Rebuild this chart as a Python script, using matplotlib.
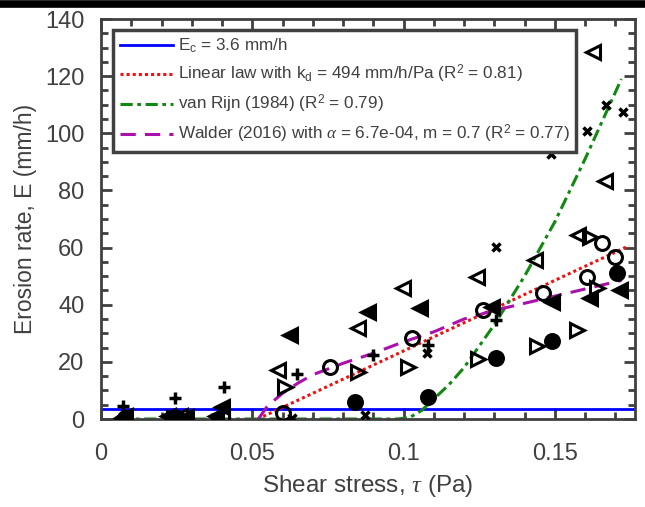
import numpy as np
import matplotlib.pyplot as plt
from matplotlib.ticker import MultipleLocator

plt.rcParams['font.family'] = ['Liberation Sans', 'DejaVu Sans']
plt.rcParams['mathtext.fontset'] = 'custom'
plt.rcParams['mathtext.rm'] = 'Liberation Sans'
plt.rcParams['mathtext.it'] = 'Liberation Serif:italic'
plt.rcParams['figure.facecolor'] = 'white'
plt.rcParams['savefig.facecolor'] = 'white'
plt.rcParams['savefig.transparent'] = False
GREY = '#404040'

# measured erosion rates (tau in Pa, E in mm/h), grouped by marker
open_circ_tau = [0.0603, 0.0757, 0.1027, 0.1263, 0.1462, 0.1605, 0.1655, 0.1699, 0.025]
open_circ_E = [2.0, 18.3, 28.2, 38.2, 44.0, 49.8, 61.5, 56.8, 0.5]
fill_circ_tau = [0.0839, 0.1082, 0.1305, 0.1492, 0.1704, 0.008]
fill_circ_E = [6.1, 7.8, 21.2, 27.3, 51.0, 0.5]
open_left_tau = [0.0586, 0.085, 0.0999, 0.1242, 0.1434, 0.1576, 0.1625, 0.1666, 0.007, 0.026, 0.040]
open_left_E = [17.2, 31.7, 45.7, 49.6, 55.6, 64.4, 128.5, 83.3, 0.5, 1.2, 0.8]
fill_left_tau = [0.0625, 0.0883, 0.1054, 0.1291, 0.149, 0.1616, 0.1715, 0.0399, 0.038, 0.008, 0.022, 0.028]
fill_left_E = [29.4, 37.6, 38.7, 39.3, 41.0, 42.2, 45.1, 4.3, 1.0, 1.0, 1.0, 0.8]
open_right_tau = [0.0608, 0.085, 0.1016, 0.1247, 0.144, 0.1572, 0.1616, 0.1638, 0.024]
open_right_E = [11.1, 16.6, 18.3, 20.9, 25.5, 31.2, 63.8, 45.7, 0.3]
plus_tau = [0.0074, 0.0245, 0.0408, 0.0647, 0.09, 0.1082, 0.1307]
plus_E = [4.5, 7.2, 11.1, 15.7, 22.4, 25.9, 34.5]
cross_tau = [0.063, 0.0872, 0.1076, 0.1307, 0.1489, 0.1607, 0.1669, 0.1724, 0.009, 0.027, 0.0375]
cross_E = [0.2, 1.4, 23.0, 60.3, 92.8, 100.9, 109.9, 107.6, 0.3, 0.2, 0.5]

# model curves
E_c = 3.6
k_d = 494.0
tau_c_lin = 0.0518
vr_tau = [0.006, 0.098, 0.102, 0.106, 0.110, 0.115, 0.120, 0.130, 0.140, 0.150, 0.160, 0.172]
vr_E = [0, 0, 0.5, 3, 7, 12, 18, 33, 50, 69, 91, 119]
wa_tau = [0.052, 0.055, 0.06, 0.065, 0.07, 0.08, 0.09, 0.10, 0.11, 0.12, 0.13, 0.14, 0.15, 0.16, 0.172]
wa_E = [0, 4.5, 9, 12.5, 15.5, 19.5, 23, 27, 30.5, 35, 38, 40.5, 43, 45.5, 48.5]

fig = plt.figure(figsize=(6.45, 5.07), dpi=100)
ax = fig.add_axes([101 / 645, 88 / 507, 534 / 645, 400 / 507])

xmax = 0.1765
ax.plot([0, xmax], [E_c, E_c], color='#0000ff', lw=2, label=r'E$_\mathrm{c}$ = 3.6 mm/h')
lin_tau = np.array([tau_c_lin, 0.1745])
ax.plot(lin_tau, k_d * (lin_tau - tau_c_lin), color='#ee1111', lw=2.2, ls=(0, (1, 1)),
        label=r'Linear law with k$_\mathrm{d}$ = 494 mm/h/Pa (R$^2$ = 0.81)')
ax.plot(vr_tau, vr_E, color='#118811', lw=2.2, ls=(0, (4, 1.5, 1.2, 1.5)),
        label=r'van Rijn (1984) (R$^2$ = 0.79)')
ax.plot(wa_tau, wa_E, color='#aa11aa', lw=2.2, ls=(0, (5, 3)),
        label=r'Walder (2016) with $\alpha$ = 6.7e-04, m = 0.7 (R$^2$ = 0.77)')

mk = dict(ls='none', color='black', mew=2.2, ms=10, zorder=5)
ax.plot(open_circ_tau, open_circ_E, marker='o', mfc='none', **mk)
ax.plot(fill_circ_tau, fill_circ_E, marker='o', mfc='black', **mk)
ax.plot(open_left_tau, open_left_E, marker='<', mfc='none', **mk)
ax.plot(fill_left_tau, fill_left_E, marker='<', mfc='black', **mk)
ax.plot(open_right_tau, open_right_E, marker='>', mfc='none', **mk)
ax.plot(plus_tau, plus_E, marker='+', ls='none', color='black', mew=2.5, ms=8, zorder=5)
ax.plot(cross_tau, cross_E, marker='x', ls='none', color='black', mew=2.5, ms=5.5, zorder=5)

ax.set_xlim(0, xmax)
ax.set_ylim(0, 140)
ax.xaxis.set_minor_locator(MultipleLocator(0.01))
ax.yaxis.set_major_locator(MultipleLocator(20))
ax.yaxis.set_minor_locator(MultipleLocator(5))
ax.set_xticks([0, 0.05, 0.1, 0.15])
ax.set_xticklabels(['0', '0.05', '0.1', '0.15'])
ax.tick_params(which='both', direction='in', top=True, right=True, color=GREY,
               width=2, labelsize=17, labelcolor=GREY)
ax.tick_params(which='major', length=8)
ax.tick_params(axis='x', which='major', pad=17)
ax.tick_params(axis='y', which='major', pad=12)
ax.tick_params(which='minor', length=5)
for s in ax.spines.values():
    s.set_color(GREY)
    s.set_linewidth(2)

ax.set_xlabel(r'Shear stress, $\tau$ (Pa)', fontsize=17.5, color=GREY, labelpad=6)
ax.set_ylabel('Erosion rate, E (mm/h)', fontsize=16.5, color=GREY, labelpad=6)

leg = ax.legend(loc='upper left', bbox_to_anchor=(0.022, 0.972), borderaxespad=0,
                fontsize=12.3, fancybox=False, framealpha=1, edgecolor=GREY,
                handlelength=3.1, handletextpad=0.3, labelspacing=0.45, borderpad=0.4)
leg.get_frame().set_linewidth(2.5)
for t in leg.get_texts():
    t.set_color(GREY)

# dark strip along the top edge
fig.add_artist(plt.Line2D([0, 1], [1 - 3.5 / 507, 1 - 3.5 / 507], color='black', lw=5.5,
                          transform=fig.transFigure))

fig.savefig('out.png', dpi=100)
